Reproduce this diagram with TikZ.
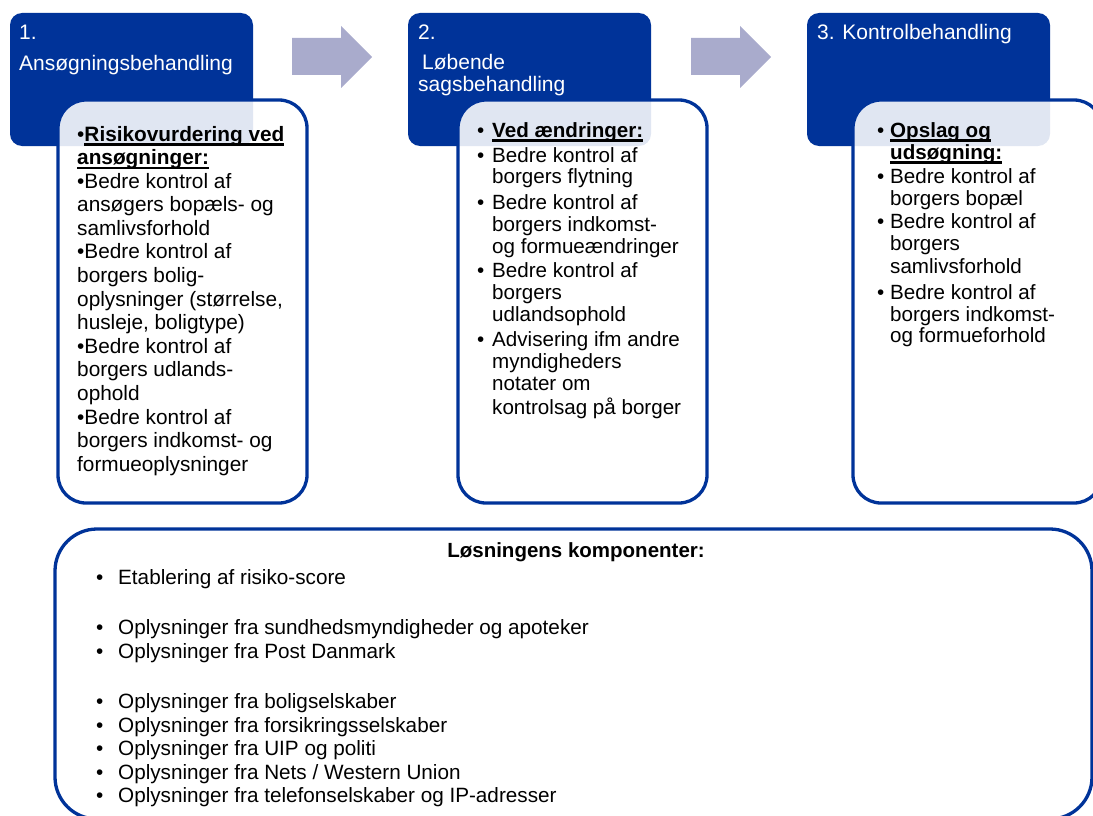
\documentclass[tikz,border=0pt]{standalone}
\usepackage{fontspec}
\setmainfont{Liberation Sans}
\usepackage{array}
\definecolor{phaseblue}{RGB}{0,51,153}
\definecolor{arrowgray}{RGB}{169,171,204}
\tikzstyle{phase}=[fill=phaseblue, rounded corners=12pt]
\tikzstyle{card}=[draw=phaseblue, line width=3.3pt, fill=white, fill opacity=0.88, rounded corners=28pt]
\tikzstyle{headtxt}=[anchor=base west, inner sep=0pt, text=white, font=\fontsize{21}{22}\selectfont]
\tikzstyle{bodytxt}=[anchor=base west, inner sep=0pt, font=\fontsize{20.6}{22}\selectfont]
\newsavebox{\headbox}
\newcommand{\uhead}[1]{\sbox\headbox{\textbf{#1}}\rlap{\rule[-4.5pt]{\wd\headbox}{2.2pt}}\usebox\headbox}

\begin{document}
\begin{tikzpicture}[x=1pt, y=-1pt]
    \useasboundingbox (0,0) rectangle (1093,816);
    \clip (0,0) rectangle (1093,816);

    %phase headers and cards
    \foreach \x/\y in {10/58,408/458,807/853} {
    \fill[phase] (\x,13) rectangle ++(243,133);
    \filldraw[card] (\y,100) rectangle ++(249,403);
    }

    %arrows between phases
    \foreach \x in {292,691} {
    \fill[arrowgray] (\x,38) -- ++(49,0) -- ++(0,-12) -- ++(31,31) -- ++(-31,31) -- ++(0,-13) -- ++(-49,0) -- cycle;
    }

    % header texts
    \node[headtxt] (h1) at (19,40) {\begin{tabular}[t]{@{}l@{}}1.\\[9pt] Ansøgningsbehandling\end{tabular}};
    \node[headtxt] (h2) at (418,40) {\begin{tabular}[t]{@{}l@{}}2.\\[8pt] \hspace{4pt}Løbende\\ sagsbehandling\end{tabular}};
    \node[headtxt] (h3) at (817,40) {3. Kontrolbehandling};

    % phase 1
    \node[bodytxt, font=\fontsize{20.8}{23.6}\selectfont] (risk) at (77,141) {\begin{tabular}[t]{@{}l@{}}
    •\uhead{Risikovurdering ved}\\
    \uhead{ansøgninger:}\\
    •Bedre kontrol af\\
    ansøgers bopæls- og\\
    samlivsforhold\\
    •Bedre kontrol af\\
    borgers bolig-\\
    oplysninger (størrelse,\\
    husleje, boligtype)\\
    •Bedre kontrol af\\
    borgers udlands-\\
    ophold\\
    •Bedre kontrol af\\
    borgers indkomst- og\\
    formueoplysninger
    \end{tabular}};

    % phase 2
    \node[bodytxt] (change) at (477,137) {\begin{tabular}[t]{@{}p{15pt}@{}l@{}}
    • & \uhead{Ved ændringer:}\\[3pt]
    • & Bedre kontrol af\\
      & borgers flytning\\[3pt]
    • & Bedre kontrol af\\
      & borgers indkomst-\\
      & og formueændringer\\[3pt]
    • & Bedre kontrol af\\
      & borgers\\
      & udlandsophold\\[3pt]
    • & Advisering ifm andre\\
      & myndigheders\\
      & notater om\\
      & kontrolsag på borger
    \end{tabular}};

    % phase 3
    \node[bodytxt] (lookup) at (877,137) {\begin{tabular}[t]{@{}p{13pt}@{}l@{}}
    • & \uhead{Opslag og}\\
      & \uhead{udsøgning:}\\[2pt]
    • & Bedre kontrol af\\
      & borgers bopæl\\[2pt]
    • & Bedre kontrol af\\
      & borgers\\
      & samlivsforhold\\[4pt]
    • & Bedre kontrol af\\
      & borgers indkomst-\\
      & og formueforhold
    \end{tabular}};

    %components
    \draw[card, fill opacity=1, rounded corners=42pt] (55,529) rectangle (1092,819);
    \node[bodytxt, anchor=base, font=\fontsize{20.5}{22}\selectfont\bfseries] (comp) at (576,557) {Løsningens komponenter:};
    \node[bodytxt, font=\fontsize{20.7}{23.5}\selectfont] (parts) at (96,584) {\begin{tabular}[t]{@{}p{22pt}@{}l@{}}
    • & Etablering af risiko-score\\[27pt]
    • & Oplysninger fra sundhedsmyndigheder og apoteker\\
    • & Oplysninger fra Post Danmark\\[27pt]
    • & Oplysninger fra boligselskaber\\
    • & Oplysninger fra forsikringsselskaber\\
    • & Oplysninger fra UIP og politi\\
    • & Oplysninger fra Nets / Western Union\\
    • & Oplysninger fra telefonselskaber og IP-adresser
    \end{tabular}};

\end{tikzpicture}
\end{document}
